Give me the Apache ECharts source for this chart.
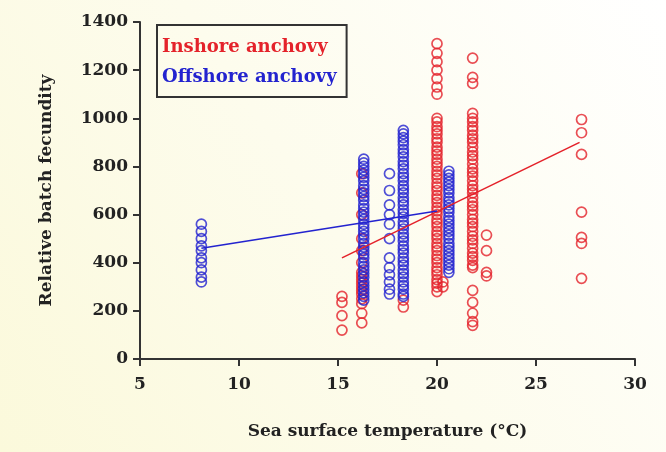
<!DOCTYPE html>
<html>
<head>
<meta charset="utf-8">
<script src="https://cdn.jsdelivr.net/npm/echarts@6/dist/echarts.min.js"></script>
<style>
html,body{margin:0;padding:0;background:#fff;}
#c{width:666px;height:452px;}
</style>
</head>
<body>
<div id="c"></div>
<script>
// ---- data ----
const xTicks = [5, 10, 15, 20, 25, 30];
const yTicks = [0, 200, 400, 600, 800, 1000, 1200, 1400];

// Inshore anchovy: [temperature column, list of fecundity values]
const inshoreCols = [
  [15.2, [260, 235, 180, 120]],
  [16.2, [770, 690, 600, 500, 450, 400, 360, 345, 330, 315, 300, 285, 270, 250, 230, 190, 150]],
  [18.3, [245, 216]],
  [20.0, [1310, 1270, 1235, 1200, 1165, 1130, 1100,
          1000, 985, 965, 950, 935, 915, 900, 880, 865, 850, 830, 815, 800, 780, 765, 750,
          730, 715, 700, 680, 665, 650, 630, 615, 600, 580, 565, 550, 530, 515, 500, 480,
          465, 450, 430, 415, 400, 380, 365, 350, 330, 315, 300, 280]],
  [20.3, [320, 300]],
  [21.8, [1250, 1170, 1145,
          1020, 1000, 985, 965, 950, 930, 915, 900, 880, 860, 845, 830, 810, 790, 775, 760,
          740, 720, 705, 690, 670, 650, 635, 620, 600, 580, 565, 550, 530, 510, 495, 480,
          460, 440, 425, 410, 390, 380, 285, 235, 190, 155, 140]],
  [22.5, [515, 450, 360, 345]],
  [27.3, [995, 940, 850, 610, 505, 480, 335]]
];

// Offshore anchovy
const offshoreCols = [
  [8.1, [560, 530, 500, 470, 450, 420, 400, 370, 340, 320]],
  [16.3, [830, 815, 800, 785, 770, 755, 740, 720, 705, 690, 675, 660, 640, 625, 610, 595,
          580, 560, 545, 530, 515, 500, 480, 465, 450, 435, 420, 400, 385, 370, 355, 340,
          320, 305, 290, 275, 260, 245]],
  [17.6, [770, 700, 640, 600, 560, 500, 420, 380, 350, 320, 290, 270]],
  [18.3, [950, 935, 920, 905, 890, 870, 855, 840, 820, 805, 790, 770, 755, 740, 720, 705,
          690, 670, 655, 640, 620, 605, 590, 570, 555, 540, 520, 505, 490, 470, 455, 440,
          420, 405, 390, 370, 355, 340, 320, 305, 290, 270, 260]],
  [20.6, [780, 765, 750, 735, 720, 705, 690, 670, 655, 640, 625, 610, 590, 575, 560, 545,
          530, 515, 500, 480, 465, 450, 435, 420, 405, 390, 375, 360]]
];

// regression line end points
const inshoreFit = [[15.2, 420], [27.2, 900]];
const offshoreFit = [[8.1, 460], [20.0, 615]];

const seriesNames = ['Inshore anchovy', 'Offshore anchovy'];
const RED = '#e4222a';
const BLUE = '#2323cf';

function toPoints(cols) {
  const out = [];
  cols.forEach(c => c[1].forEach(v => out.push([c[0], v])));
  return out;
}

const FONT = 'DejaVu Serif';
const chart = echarts.init(document.getElementById('c'), null, {renderer: 'canvas'});
chart.setOption({
  animation: false,
  backgroundColor: {
    type: 'linear', x: 1, y: 0, x2: 0, y2: 1,
    colorStops: [{offset: 0, color: '#ffffff'}, {offset: 1, color: '#fbf9db'}]
  },
  grid: {left: 140, top: 22, width: 495, height: 337},
  legend: {
    data: [
      {name: seriesNames[0], textStyle: {color: RED}},
      {name: seriesNames[1], textStyle: {color: BLUE}}
    ],
    orient: 'vertical',
    left: 157, top: 25,
    icon: 'none', itemWidth: 0, itemHeight: 10, itemGap: 10,
    padding: [12, 10, 10, 0],
    borderColor: '#333', borderWidth: 2,
    textStyle: {fontFamily: FONT, fontWeight: 'bold', fontSize: 18, lineHeight: 20},
    selectedMode: false
  },
  xAxis: {
    type: 'value', min: 5, max: 30, interval: 5,
    name: 'Sea surface temperature (°C)', nameLocation: 'middle', nameGap: 64,
    nameTextStyle: {fontFamily: FONT, fontWeight: 'bold', fontSize: 17, color: '#222'},
    axisLine: {lineStyle: {color: '#333', width: 2}},
    axisTick: {length: 7, lineStyle: {color: '#333', width: 2}},
    axisLabel: {margin: 17, fontFamily: FONT, fontWeight: 'bold', fontSize: 17, color: '#222',
      formatter: v => xTicks.includes(v) ? String(v) : ''},
    splitLine: {show: false}
  },
  yAxis: {
    type: 'value', min: 0, max: 1400, interval: 200,
    name: 'Relative batch fecundity', nameLocation: 'middle', nameGap: 85,
    nameTextStyle: {fontFamily: FONT, fontWeight: 'bold', fontSize: 17, color: '#222'},
    axisLine: {show: true, lineStyle: {color: '#333', width: 2}},
    axisTick: {show: true, length: 7, lineStyle: {color: '#333', width: 2}},
    axisLabel: {margin: 12, fontFamily: FONT, fontWeight: 'bold', fontSize: 17, color: '#222',
      formatter: v => yTicks.includes(v) ? String(v) : ''},
    splitLine: {show: false}
  },
  series: [
    {
      name: seriesNames[0], type: 'scatter', data: toPoints(inshoreCols),
      symbol: 'circle', symbolSize: 10,
      itemStyle: {color: 'rgba(0,0,0,0)', borderColor: RED, borderWidth: 1.7}
    },
    {
      name: seriesNames[1], type: 'scatter', data: toPoints(offshoreCols),
      symbol: 'circle', symbolSize: 10,
      itemStyle: {color: 'rgba(0,0,0,0)', borderColor: BLUE, borderWidth: 1.7}
    },
    {
      name: 'Inshore fit', type: 'line', data: inshoreFit, symbol: 'none', z: 5,
      lineStyle: {color: RED, width: 1.6}
    },
    {
      name: 'Offshore fit', type: 'line', data: offshoreFit, symbol: 'none', z: 5,
      lineStyle: {color: BLUE, width: 1.6}
    }
  ]
});
</script>
</body>
</html>
